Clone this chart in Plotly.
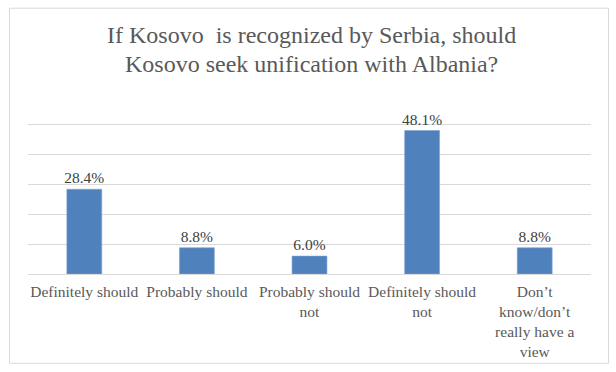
import plotly.graph_objects as go

categories = ["Definitely should", "Probably should", "Probably should<br>not",
              "Definitely should<br>not", "Don’t<br>know/don’t<br>really have a<br>view"]
values = [28.4, 8.8, 6.0, 48.1, 8.8]
labels = [f"{v:.1f}%" for v in values]
title_lines = ["If Kosovo  is recognized by Serbia, should",
               "Kosovo seek unification with Albania?"]

W, H = 616, 372
L, R, T, B = 28, 24.5, 95, 95.5
pw, ph = W - L - R, H - T - B

def px_x(x):
    return (x - L) / pw

def px_y(y):
    return (H - B - y) / ph

FONT = "Liberation Serif"
GRAY = "#595959"

fig = go.Figure()
fig.add_trace(go.Bar(
    x=list(range(len(categories))), y=values,
    text=labels, textposition="outside", cliponaxis=False, constraintext="none",
    textfont=dict(family=FONT, size=15.5, color="#404040"),
    marker=dict(color="#4f81bd", line=dict(color="#7fa3d1", width=0.6)),
    width=0.31,
))

title_ys = [34.6, 64.0]
annotations = [dict(
    text=t, xref="paper", yref="paper",
    x=px_x(312), y=px_y(yy), xanchor="center", yanchor="middle",
    showarrow=False, align="center",
    font=dict(family=FONT, size=24, color=GRAY),
) for t, yy in zip(title_lines, title_ys)]

fig.update_layout(
    width=W, height=H,
    margin=dict(l=L, r=R, t=T, b=B),
    paper_bgcolor="white", plot_bgcolor="white",
    showlegend=False,
    xaxis=dict(
        tickmode="array", tickvals=list(range(len(categories))), ticktext=categories,
        tickfont=dict(family=FONT, size=15.5, color=GRAY),
        showgrid=False, zeroline=False, showline=False, ticks="",
        ticklabelstandoff=6,
        range=[-0.5, len(categories) - 0.5],
    ),
    yaxis=dict(
        range=[0, 60], dtick=10, showticklabels=False,
        showgrid=True, gridcolor="#d9d9d9", gridwidth=1,
        zeroline=True, zerolinecolor="#d9d9d9", zerolinewidth=1.2,
        ticks="", showline=False,
    ),
    annotations=annotations,
    shapes=[dict(
        type="rect", xref="paper", yref="paper",
        x0=px_x(9.5), x1=px_x(609), y0=px_y(367), y1=px_y(7),
        line=dict(color="#d9d9d9", width=1), fillcolor="rgba(0,0,0,0)",
        layer="below",
    )],
)

fig.write_html("out.html")
